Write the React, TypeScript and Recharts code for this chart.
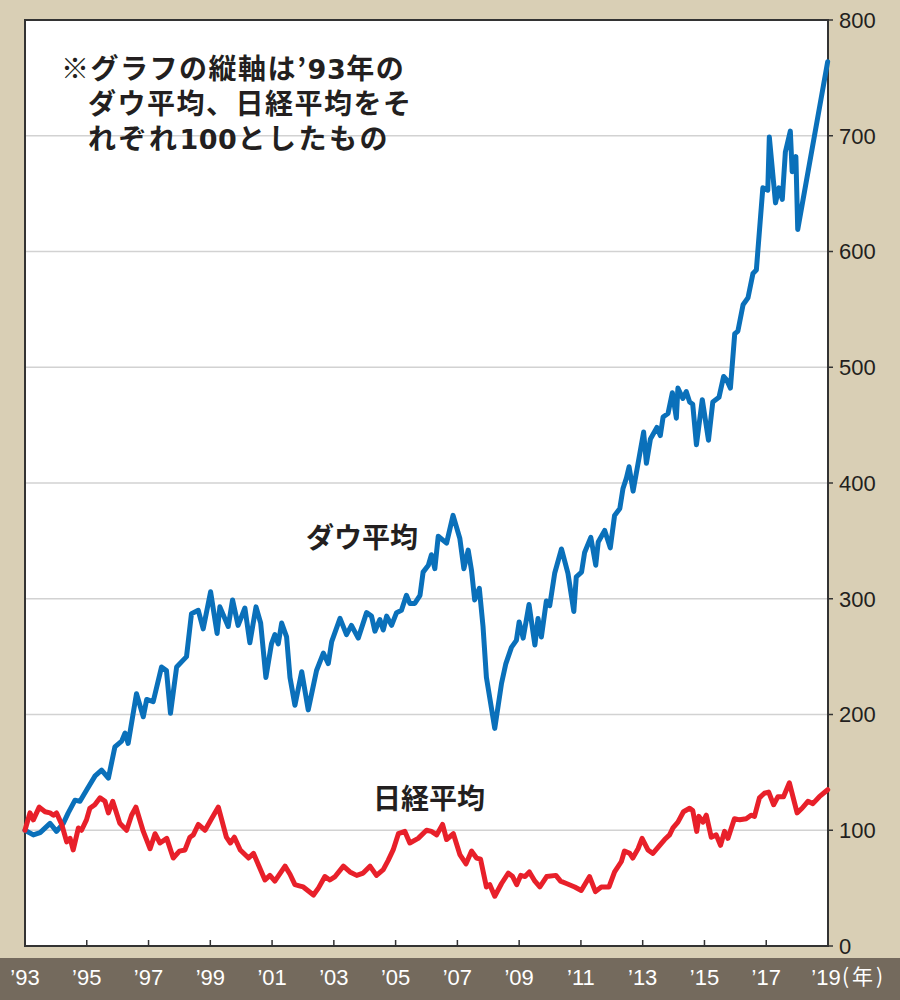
import React from 'react';
import { LineChart, Line, XAxis, YAxis, CartesianGrid, ReferenceArea } from 'recharts';

// '93 = 100 index
const dowYears = [
  1993.0, 1993.27, 1993.49, 1993.81, 1994.02, 1994.24, 1994.4, 1994.62, 1994.78, 1995.0,
  1995.27, 1995.48, 1995.7, 1995.91, 1996.13, 1996.24, 1996.34, 1996.61, 1996.83, 1996.94,
  1997.15, 1997.42, 1997.58, 1997.71, 1997.91, 1998.23, 1998.39, 1998.61, 1998.77, 1999.01,
  1999.22, 1999.31, 1999.58, 1999.72, 1999.9, 2000.12, 2000.28, 2000.48, 2000.63, 2000.8,
  2000.98, 2001.09, 2001.2, 2001.31, 2001.47, 2001.58, 2001.74, 2001.96, 2002.17, 2002.44,
  2002.66, 2002.82, 2002.93, 2003.2, 2003.41, 2003.57, 2003.79, 2004.06, 2004.22, 2004.33,
  2004.49, 2004.6, 2004.71, 2004.87, 2005.03, 2005.19, 2005.35, 2005.46, 2005.62, 2005.79,
  2005.89, 2006.06, 2006.16, 2006.27, 2006.38, 2006.65, 2006.86, 2007.08, 2007.21, 2007.35,
  2007.46, 2007.56, 2007.71, 2007.83, 2007.94, 2008.21, 2008.43, 2008.57, 2008.75, 2008.91,
  2009.0, 2009.13, 2009.32, 2009.51, 2009.61, 2009.72, 2009.88, 2009.99, 2010.15, 2010.37,
  2010.58, 2010.77, 2010.85, 2011.02, 2011.12, 2011.32, 2011.48, 2011.56, 2011.77, 2011.95,
  2012.09, 2012.26, 2012.36, 2012.47, 2012.56, 2012.69, 2012.85, 2013.03, 2013.12, 2013.25,
  2013.46, 2013.57, 2013.66, 2013.82, 2013.96, 2014.09, 2014.14, 2014.3, 2014.41, 2014.52,
  2014.62, 2014.74, 2014.93, 2015.13, 2015.27, 2015.47, 2015.62, 2015.72, 2015.84, 2015.98,
  2016.08, 2016.25, 2016.41, 2016.57, 2016.68, 2016.89, 2017.05, 2017.1, 2017.3, 2017.41,
  2017.52, 2017.62, 2017.78, 2017.84, 2017.96, 2018.02, 2018.99,
];
const dowValues = [
  100, 96, 98, 106, 99, 106, 115, 126, 125, 135,
  147, 152, 145, 172, 177, 184, 175, 218, 198, 213,
  211, 241, 238, 201, 241, 250, 287, 290, 274, 306,
  270, 293, 276, 299, 277, 292, 262, 293, 279, 232,
  261, 269, 261, 279, 267, 232, 208, 237, 204, 238,
  253, 244, 263, 283, 269, 277, 266, 288, 285, 272,
  282, 273, 285, 277, 288, 290, 303, 296, 296, 303,
  323, 329, 338, 326, 354, 348, 372, 352, 326, 342,
  324, 299, 309, 276, 232, 188, 227, 244, 258, 264,
  280, 266, 295, 260, 283, 267, 298, 294, 322, 343,
  322, 289, 319, 323, 340, 353, 329, 349, 359, 344,
  372, 378, 395, 404, 414, 393, 417, 444, 417, 438,
  448, 441, 457, 460, 478, 456, 482, 473, 479, 470,
  468, 433, 472, 437, 470, 474, 492, 489, 482, 529,
  531, 554, 560, 581, 584, 655, 653, 699, 642, 655,
  645, 686, 704, 669, 682, 619, 764,
];

const nikkeiYears = [
  1993.0, 1993.16, 1993.27, 1993.46, 1993.65, 1993.81, 1993.92, 1994.02, 1994.19, 1994.35,
  1994.46, 1994.56, 1994.73, 1994.83, 1994.99, 1995.1, 1995.26, 1995.43, 1995.59, 1995.7,
  1995.84, 1996.07, 1996.29, 1996.45, 1996.59, 1996.83, 1997.05, 1997.21, 1997.37, 1997.59,
  1997.8, 1998.0, 1998.18, 1998.34, 1998.45, 1998.61, 1998.83, 1999.04, 1999.26, 1999.52,
  1999.65, 1999.78, 1999.97, 2000.24, 2000.4, 2000.56, 2000.77, 2000.93, 2001.09, 2001.42,
  2001.58, 2001.74, 2001.88, 2002.01, 2002.34, 2002.5, 2002.71, 2002.87, 2003.04, 2003.31,
  2003.52, 2003.74, 2003.95, 2004.17, 2004.38, 2004.6, 2004.76, 2004.92, 2005.09, 2005.3,
  2005.46, 2005.73, 2006.0, 2006.16, 2006.33, 2006.52, 2006.65, 2006.87, 2007.08, 2007.28,
  2007.46, 2007.62, 2007.75, 2007.94, 2008.05, 2008.21, 2008.43, 2008.65, 2008.79, 2008.92,
  2009.05, 2009.19, 2009.33, 2009.51, 2009.67, 2009.89, 2010.19, 2010.34, 2010.53, 2010.8,
  2011.01, 2011.28, 2011.47, 2011.66, 2011.91, 2012.09, 2012.31, 2012.41, 2012.58, 2012.68,
  2012.85, 2012.98, 2013.17, 2013.33, 2013.55, 2013.71, 2013.87, 2013.98, 2014.14, 2014.32,
  2014.52, 2014.62, 2014.75, 2014.82, 2014.95, 2015.06, 2015.22, 2015.38, 2015.52, 2015.65,
  2015.76, 2015.97, 2016.14, 2016.35, 2016.51, 2016.62, 2016.78, 2016.94, 2017.08, 2017.24,
  2017.38, 2017.56, 2017.75, 2018.0, 2018.16, 2018.35, 2018.51, 2018.72, 2018.99,
];
const nikkeiValues = [
  100, 115, 109, 120, 116, 115, 113, 115, 105, 90,
  93, 83, 102, 100, 109, 119, 122, 128, 125, 115,
  125, 106, 100, 113, 120, 99, 84, 97, 89, 93,
  76, 82, 83, 94, 96, 105, 100, 110, 120, 94,
  89, 94, 83, 76, 80, 70, 57, 61, 56, 69,
  62, 53, 52, 51, 44, 50, 60, 57, 60, 69,
  64, 61, 63, 69, 61, 66, 74, 83, 97, 99,
  89, 93, 100, 99, 96, 105, 92, 97, 79, 71,
  82, 76, 75, 51, 53, 43, 54, 63, 60, 53,
  61, 60, 64, 56, 51, 60, 61, 56, 54, 51,
  48, 60, 47, 51, 51, 64, 73, 82, 80, 76,
  84, 93, 83, 80, 87, 92, 96, 102, 107, 116,
  119, 117, 99, 112, 107, 113, 94, 96, 87, 99,
  93, 110, 109, 110, 113, 112, 128, 132, 133, 122,
  129, 129, 141, 115, 119, 125, 123, 129, 135,
];

const yearTicks = [1993, 1995, 1997, 1999, 2001, 2003, 2005, 2007, 2009, 2011, 2013, 2015, 2017, 2019];
const yearLabels = ['’93', '’95', '’97', '’99', '’01', '’03', '’05', '’07', '’09', '’11', '’13', '’15', '’17', '’19'];
const valueTicks = [0, 100, 200, 300, 400, 500, 600, 700, 800];

// note text, split so the digits can use a wider face
const noteLines = [
  ['※グラフの縦軸は’', '93', '年の'],
  ['ダウ平均、日経平均をそ'],
  ['れぞれ', '100', 'としたもの'],
];
const dowLabel = 'ダウ平均';
const nikkeiLabel = '日経平均';
const unitLabel = '(年)';

const dowData = dowYears.map((t, i) => ({ t, dow: dowValues[i] }));
const nikkeiData = nikkeiYears.map((t, i) => ({ t, nikkei: nikkeiValues[i] }));

const INK = '#231f20';
const LATIN = '"Liberation Sans", Arial, Helvetica, sans-serif';
const CJK = '"Noto Sans CJK JP", "Noto Sans", sans-serif';

const YearTick = (props: any) => {
  const { x, y, payload } = props;
  const i = yearTicks.indexOf(payload.value);
  const last = i === yearTicks.length - 1;
  return (
    <g>
      {i > 0 && !last && <line x1={x} x2={x} y1={y} y2={y - 6} stroke="#333" strokeWidth={1.5} />}
      <text x={last ? x - 2 : x} y={y + 39} textAnchor="middle" fill="#fff" fontSize={22} fontFamily={LATIN}>
        {yearLabels[i]}
      </text>
      {last && (
        <text x={x + 14} y={y + 38} fill="#fff" fontSize={21} letterSpacing={3} fontFamily={CJK}>
          {unitLabel}
        </text>
      )}
    </g>
  );
};

const textStyle: React.CSSProperties = {
  position: 'absolute',
  fontFamily: CJK,
  fontWeight: 700,
  fontSize: 28,
  lineHeight: '30px',
  height: 30,
  color: INK,
  whiteSpace: 'nowrap',
};

const partStyle: React.CSSProperties = {
  display: 'inline-block',
  height: 30,
  lineHeight: '30px',
  overflow: 'visible',
};

const digitStyle: React.CSSProperties = {
  ...partStyle,
  fontFamily: '"DejaVu Sans", sans-serif',
  fontSize: 27,
  letterSpacing: 0.5,
};

const App: React.FC = () => {
  return (
    <div style={{ position: 'absolute', left: 0, top: 0, width: 900, height: 1000, background: '#d9cfb5', overflow: 'hidden' }}>
      <div style={{ position: 'absolute', left: 0, top: 958, width: 900, height: 42, background: '#746a5d' }} />
      <LineChart
        width={900}
        height={1000}
        margin={{ top: 20, right: 12, bottom: 0, left: 25 }}
        style={{ position: 'absolute', left: 0, top: 0 }}
      >
        <CartesianGrid vertical={false} stroke="#d2d2d2" strokeWidth={1.5} fill="#fff" fillOpacity={1} />
        <XAxis
          dataKey="t"
          type="number"
          domain={[1993, 2019]}
          ticks={yearTicks}
          axisLine={false}
          tickLine={false}
          tickSize={0}
          tickMargin={0}
          height={54}
          interval={0}
          tick={<YearTick />}
        />
        <YAxis
          orientation="right"
          type="number"
          domain={[0, 800]}
          ticks={valueTicks}
          width={60}
          axisLine={false}
          tickLine={{ stroke: '#333', strokeWidth: 1.5 }}
          tickSize={5}
          tickMargin={6}
          interval={0}
          tick={{ fill: INK, fontSize: 22, fontFamily: LATIN }}
        />
        <ReferenceArea x1={1993} x2={2019} y1={0} y2={800} fill="none" stroke="#333" strokeWidth={2} />
        <Line
          data={dowData}
          dataKey="dow"
          type="linear"
          stroke="#0a70ba"
          strokeWidth={5}
          strokeLinejoin="round"
          strokeLinecap="round"
          dot={false}
          isAnimationActive={false}
        />
        <Line
          data={nikkeiData}
          dataKey="nikkei"
          type="linear"
          stroke="#e8202a"
          strokeWidth={5}
          strokeLinejoin="round"
          strokeLinecap="round"
          dot={false}
          isAnimationActive={false}
        />
      </LineChart>
      {noteLines.map((parts, li) => (
        <div
          key={li}
          style={{ ...textStyle, left: li === 0 ? 61 : 88, top: 52 + li * 35, letterSpacing: li === 2 ? 2.5 : 1.5 }}
        >
          {parts.map((p, pi) => (
            <span key={pi} style={/^\d+$/.test(p) ? digitStyle : partStyle}>{p}</span>
          ))}
        </div>
      ))}
      <div style={{ ...textStyle, left: 306, top: 521 }}>{dowLabel}</div>
      <div style={{ ...textStyle, left: 373, top: 782 }}>{nikkeiLabel}</div>
    </div>
  );
};

export default App;
